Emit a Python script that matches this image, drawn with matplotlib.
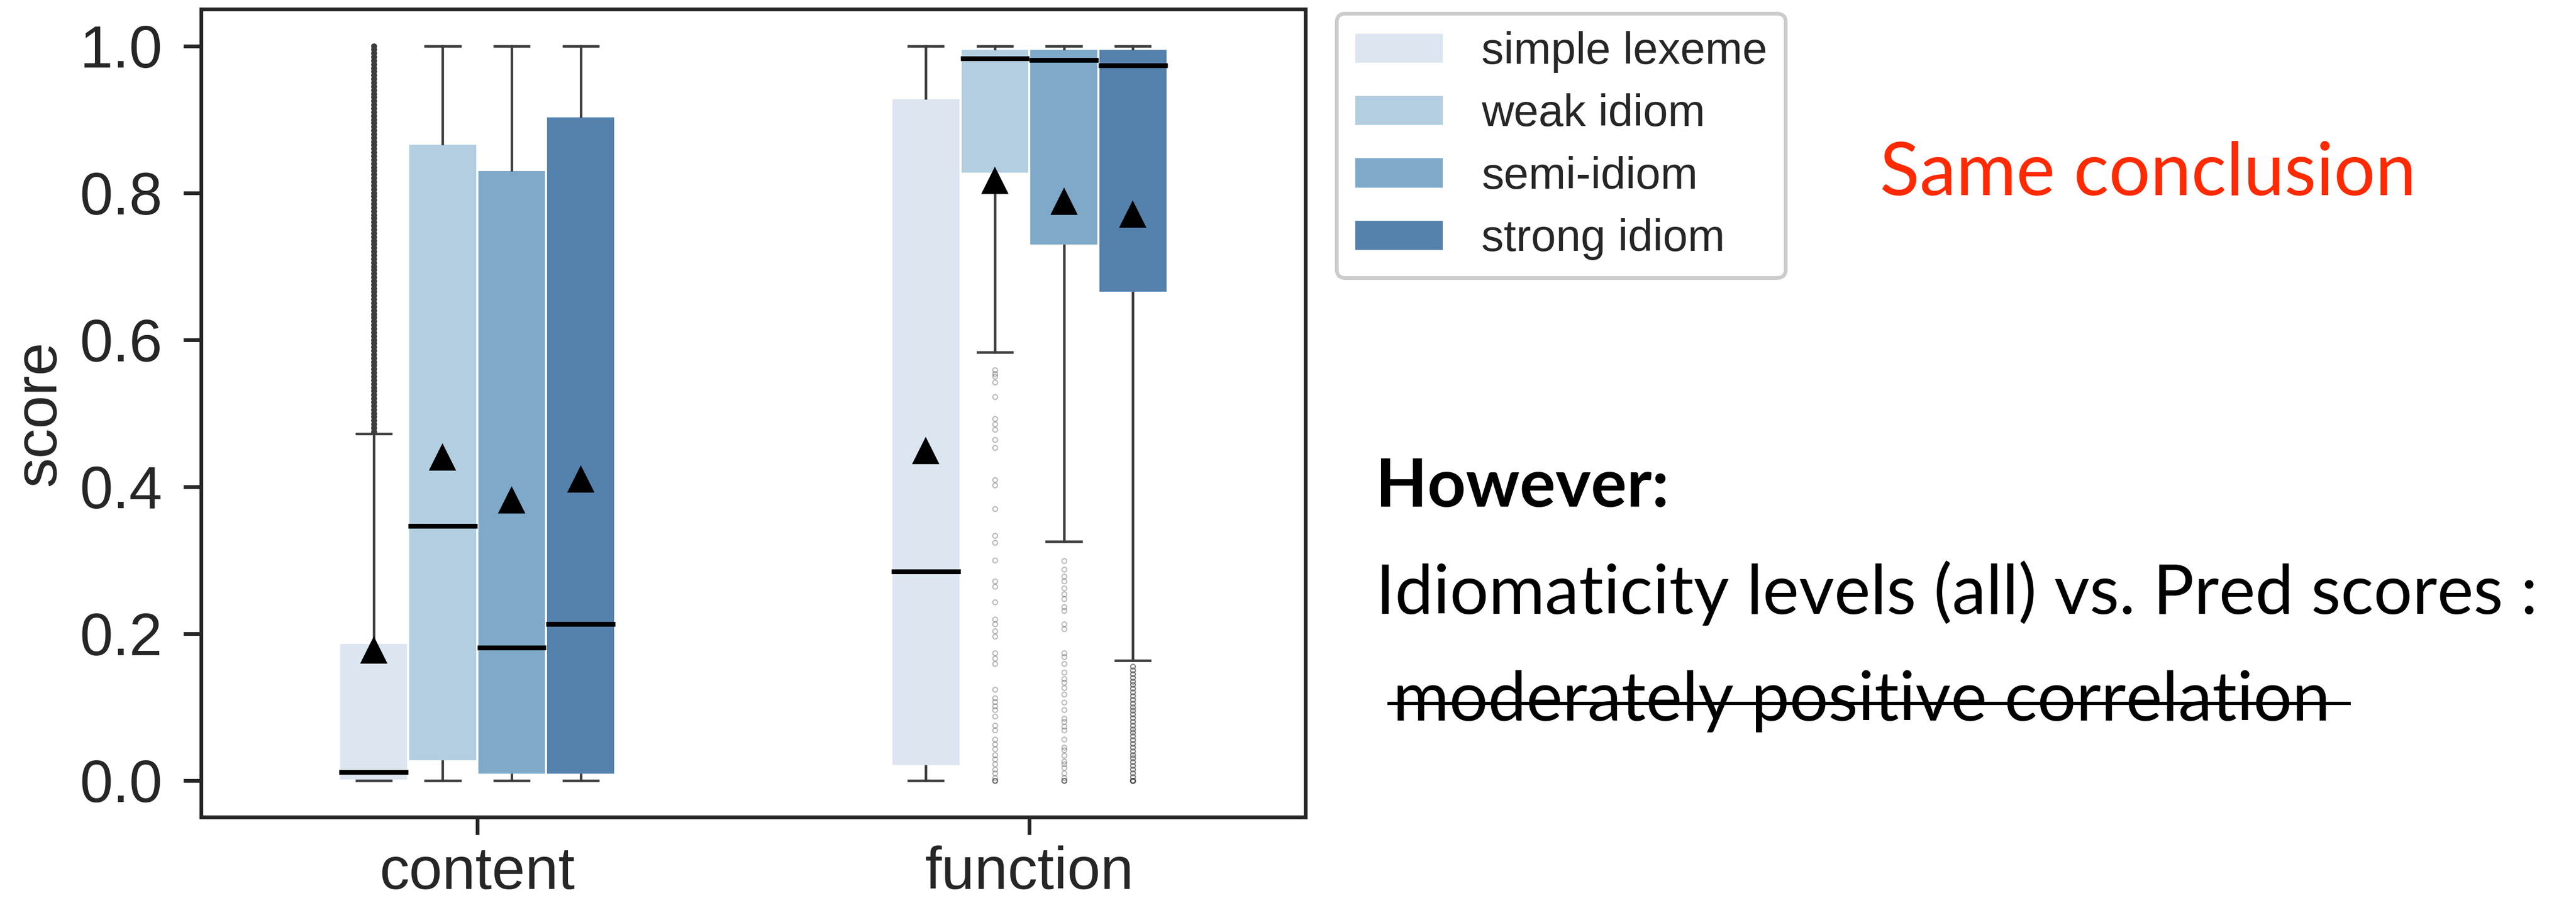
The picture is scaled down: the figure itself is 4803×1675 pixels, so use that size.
import matplotlib
matplotlib.use("Agg")
import matplotlib.pyplot as plt
from matplotlib.patches import Patch
from matplotlib.lines import Line2D

# canvas in pixels, drawn at 400 dpi
W, H, DPI = 4803, 1675, 400

word_types = ["content", "function"]
levels = ["simple lexeme", "weak idiom", "semi-idiom", "strong idiom"]
level_colors = ["#dce6f0", "#b2cee0", "#7ea9c9", "#5581ad"]

# box statistics per idiomaticity level (content words)
content_q1 = [0.000, 0.026, 0.008, 0.008]
content_med = [0.011, 0.346, 0.181, 0.213]
content_q3 = [0.187, 0.867, 0.831, 0.904]
content_lo = [0.000, 0.000, 0.000, 0.000]
content_hi = [0.472, 1.000, 1.000, 1.000]
content_mean = [0.176, 0.439, 0.381, 0.409]

# box statistics per idiomaticity level (function words)
function_q1 = [0.019, 0.826, 0.728, 0.664]
function_med = [0.284, 0.983, 0.981, 0.973]
function_q3 = [0.929, 0.996, 0.996, 0.996]
function_lo = [0.000, 0.583, 0.325, 0.163]
function_hi = [1.000, 1.000, 1.000, 1.000]
function_mean = [0.448, 0.816, 0.787, 0.770]

# outliers
content_simple_fliers = [
    0.475, 0.480, 0.485, 0.490, 0.495, 0.500, 0.505, 0.510, 0.515, 0.520,
    0.525, 0.530, 0.535, 0.540, 0.545, 0.550, 0.555, 0.560, 0.565, 0.570,
    0.575, 0.580, 0.585, 0.590, 0.595, 0.600, 0.605, 0.610, 0.615, 0.620,
    0.625, 0.630, 0.635, 0.640, 0.645, 0.650, 0.655, 0.660, 0.665, 0.670,
    0.675, 0.680, 0.685, 0.690, 0.695, 0.700, 0.705, 0.710, 0.715, 0.720,
    0.725, 0.730, 0.735, 0.740, 0.745, 0.750, 0.755, 0.760, 0.765, 0.770,
    0.775, 0.780, 0.785, 0.790, 0.795, 0.800, 0.805, 0.810, 0.815, 0.820,
    0.825, 0.830, 0.835, 0.840, 0.845, 0.850, 0.855, 0.860, 0.865, 0.870,
    0.875, 0.880, 0.885, 0.890, 0.895, 0.900, 0.905, 0.910, 0.915, 0.920,
    0.925, 0.930, 0.935, 0.940, 0.945, 0.950, 0.955, 0.960, 0.965, 0.970,
    0.975, 0.980, 0.985, 0.990, 0.995, 1.000,
]
function_weak_fliers = [
    0.559, 0.554, 0.550, 0.542, 0.522, 0.492, 0.485, 0.478, 0.464, 0.453,
    0.409, 0.402, 0.370, 0.333, 0.324, 0.300, 0.271, 0.264, 0.243, 0.219,
    0.213, 0.203, 0.196, 0.173, 0.166, 0.159, 0.124, 0.112, 0.107, 0.101,
    0.096, 0.087, 0.075, 0.068, 0.056, 0.049, 0.043, 0.035, 0.029, 0.022,
    0.015, 0.010, 0.003, 0.000, 0.000, 0.000,
]
function_semi_fliers = [
    0.299, 0.287, 0.278, 0.271, 0.262, 0.254, 0.247, 0.236, 0.231, 0.213,
    0.206, 0.173, 0.168, 0.159, 0.147, 0.138, 0.133, 0.126, 0.117, 0.106,
    0.096, 0.084, 0.080, 0.073, 0.068, 0.056, 0.045, 0.041, 0.034, 0.026,
    0.022, 0.017, 0.010, 0.003, 0.000, 0.000, 0.000,
]
function_strong_fliers = [
    0.155, 0.150, 0.145, 0.140, 0.135, 0.130, 0.125, 0.120, 0.115, 0.110,
    0.105, 0.100, 0.095, 0.090, 0.085, 0.080, 0.075, 0.070, 0.065, 0.060,
    0.055, 0.050, 0.045, 0.040, 0.035, 0.030, 0.025, 0.020, 0.015, 0.010,
    0.005, 0.000, 0.000, 0.000,
]
fliers = {
    ("content", 0): content_simple_fliers,
    ("function", 1): function_weak_fliers,
    ("function", 2): function_semi_fliers,
    ("function", 3): function_strong_fliers,
}
# the content/simple outliers are packed so tightly they read as a solid bar
flier_alpha = {("content", 0): 1.0, ("function", 1): 0.35,
               ("function", 2): 0.35, ("function", 3): 0.6}

DARK = "#262626"
LINE = "#3d3d3d"

plt.rcParams["font.family"] = ["Liberation Sans", "DejaVu Sans"]

fig = plt.figure(figsize=(W / DPI, H / DPI), dpi=DPI)
ax = fig.add_axes([375 / W, 1 - 1524 / H, (2434 - 375) / W, (1524 - 17) / H])

box_w = 0.125
offsets = [-0.1875, -0.0625, 0.0625, 0.1875]

table = {
    "content": (content_q1, content_med, content_q3, content_lo, content_hi, content_mean),
    "function": (function_q1, function_med, function_q3, function_lo, function_hi, function_mean),
}

for gi, wt in enumerate(word_types):
    q1, med, q3, lo, hi, mean = table[wt]
    for li in range(len(levels)):
        pos = gi + offsets[li]
        stats = [{"q1": q1[li], "med": med[li], "q3": q3[li],
                  "whislo": lo[li], "whishi": hi[li], "mean": mean[li],
                  "fliers": []}]
        ax.bxp(stats, positions=[pos], widths=box_w, patch_artist=True,
               showmeans=True, showfliers=False, manage_ticks=False,
               boxprops=dict(facecolor=level_colors[li], edgecolor="white", linewidth=0.7),
               medianprops=dict(color="black", linewidth=1.6),
               whiskerprops=dict(color=LINE, linewidth=0.85),
               capprops=dict(color=LINE, linewidth=0.85),
               meanprops=dict(marker="^", markerfacecolor="black",
                              markeredgecolor="black", markersize=7.4))
        vals = fliers.get((wt, li))
        if vals:
            a = flier_alpha[(wt, li)]
            ax.plot([pos] * len(vals), vals, ls="none", marker="o",
                    markersize=1.6, markeredgecolor=LINE, markeredgewidth=0.4,
                    markerfacecolor=LINE if a == 1.0 else "none",
                    alpha=a, zorder=3)

ax.set_xlim(-0.5, 1.5)
ax.set_ylim(-0.05, 1.05)
ax.set_xticks(range(len(word_types)))
ax.set_xticklabels(word_types)
ax.set_yticks([0.0, 0.2, 0.4, 0.6, 0.8, 1.0])
ax.set_yticklabels(["0.0", "0.2", "0.4", "0.6", "0.8", "1.0"])
ax.tick_params(labelsize=20, length=6, width=1.25, colors=DARK)
ax.tick_params(axis="y", pad=7)
ax.tick_params(axis="x", pad=3.5)
ax.set_ylabel("score", fontsize=20, color=DARK, labelpad=4)
for sp in ax.spines.values():
    sp.set_color(DARK)
    sp.set_linewidth(1.25)

handles = [Patch(facecolor=c, edgecolor="white", linewidth=0.7) for c in level_colors]
leg = ax.legend(handles, levels, loc="upper left", bbox_to_anchor=(1.028, 0.995),
                borderaxespad=0, fontsize=15, labelspacing=0.46,
                handlelength=2.0, handletextpad=0.85, frameon=True,
                fancybox=True, framealpha=1)
leg.get_frame().set_edgecolor("#cccccc")
leg.get_frame().set_linewidth(1.25)
for t in leg.get_texts():
    t.set_color(DARK)

# slide notes to the right of the chart
note_font = ["Lato", "DejaVu Sans"]
fig.text(3505 / W, 1 - 364 / H, "Same conclusion", color="#ff2a00",
         fontsize=24.6, family=note_font, va="baseline")
fig.text(2565 / W, 1 - 945 / H, "However:", color="black", fontsize=22.5,
         fontweight="bold", family=note_font, va="baseline")
fig.text(2565 / W, 1 - 1145 / H, "Idiomaticity levels (all) vs. Pred scores :",
         color="black", fontsize=23, family=note_font, va="baseline")
fig.text(2597 / W, 1 - 1344 / H, "moderately positive correlation",
         color="black", fontsize=23, family=note_font, va="baseline")
fig.add_artist(Line2D([2590 / W, 4380 / W], [1 - 1312 / H, 1 - 1312 / H],
                      transform=fig.transFigure, color="black", linewidth=1.1))

fig.savefig("out.png", dpi=DPI, facecolor="white")
